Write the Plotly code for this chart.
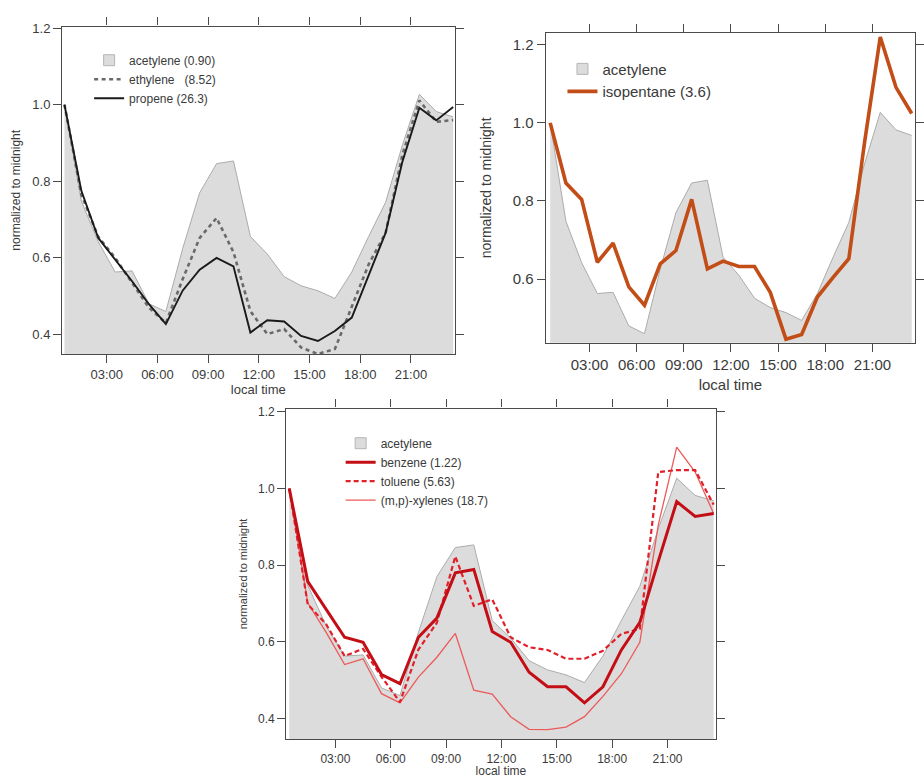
import plotly.graph_objects as go

# Hourly means (half-hour bin centres), each normalised to the midnight value
hours = [h + 0.5 for h in range(24)]

acetylene = [1.0, 0.748, 0.642, 0.563, 0.566, 0.48, 0.46, 0.625, 0.77, 0.846, 0.853, 0.656,
             0.61, 0.551, 0.527, 0.514, 0.494, 0.563, 0.656, 0.745, 0.895, 1.027, 0.982, 0.968]
ethylene = [1.0, 0.765, 0.655, 0.6, 0.535, 0.47, 0.43, 0.545, 0.652, 0.704, 0.615, 0.461,
            0.401, 0.414, 0.366, 0.349, 0.362, 0.47, 0.583, 0.665, 0.87, 1.011, 0.955, 0.96]
propene = [1.0, 0.775, 0.652, 0.596, 0.539, 0.479, 0.427, 0.515, 0.569, 0.6, 0.578, 0.405,
           0.437, 0.434, 0.396, 0.383, 0.409, 0.444, 0.557, 0.665, 0.852, 0.992, 0.959, 0.994]
isopentane = [1.0, 0.846, 0.804, 0.643, 0.692, 0.58, 0.533, 0.639, 0.673, 0.804, 0.626, 0.646,
              0.632, 0.632, 0.566, 0.446, 0.458, 0.554, 0.604, 0.652, 0.95, 1.22, 1.091, 1.024]
benzene = [1.0, 0.758, 0.685, 0.612, 0.599, 0.515, 0.491, 0.612, 0.662, 0.78, 0.789, 0.627,
           0.599, 0.521, 0.483, 0.483, 0.441, 0.483, 0.579, 0.651, 0.81, 0.966, 0.927, 0.935]
toluene = [1.0, 0.698, 0.646, 0.563, 0.582, 0.509, 0.443, 0.58, 0.65, 0.823, 0.694, 0.711,
           0.612, 0.586, 0.579, 0.556, 0.556, 0.577, 0.621, 0.634, 1.043, 1.048, 1.048, 0.958]
xylenes = [1.0, 0.702, 0.625, 0.541, 0.556, 0.465, 0.441, 0.508, 0.56, 0.622, 0.474, 0.464,
           0.405, 0.372, 0.371, 0.378, 0.405, 0.458, 0.517, 0.599, 0.905, 1.108, 1.043, 0.935]

x_tickvals = [3, 6, 9, 12, 15, 18, 21]
x_ticktext = ["03:00", "06:00", "09:00", "12:00", "15:00", "18:00", "21:00"]
y_tickvals = [0.4, 0.6, 0.8, 1.0, 1.2]
y_ticktext = ["0.4", "0.6", "0.8", "1.0", "1.2"]

FONT = "Liberation Sans, Arial, sans-serif"
TEXT = "#3a3a3a"
FRAME = "#4a4a4a"
FILL = "#dcdcdc"
EDGE = "#ababab"

fig = go.Figure()


def add_acetylene(xa, ya, legend, label):
    fig.add_trace(go.Scatter(x=hours, y=acetylene, xaxis=xa, yaxis=ya, mode="lines",
                             fill="tozeroy", fillcolor=FILL, line=dict(color=EDGE, width=1),
                             showlegend=False, hoverinfo="skip"))
    # legend swatch for the shaded reference species
    fig.add_trace(go.Scatter(x=[None], y=[None], xaxis=xa, yaxis=ya, mode="markers", name=label,
                             marker=dict(symbol="square", size=11, color=FILL,
                                         line=dict(color="#b5b5b5", width=1)),
                             legend=legend, legendrank=1))


# panel 1: alkenes
add_acetylene("x", "y", "legend", "acetylene (0.90)")
fig.add_trace(go.Scatter(x=hours, y=ethylene, xaxis="x", yaxis="y", mode="lines",
                         name="ethylene   (8.52)", legend="legend", legendrank=2,
                         line=dict(color="#6a6a6a", width=2.6, dash="4px,3.5px")))
fig.add_trace(go.Scatter(x=hours, y=propene, xaxis="x", yaxis="y", mode="lines",
                         name="propene (26.3)", legend="legend", legendrank=3,
                         line=dict(color="#1a1a1a", width=1.9)))

# panel 2: isopentane
add_acetylene("x2", "y2", "legend2", "acetylene")
fig.add_trace(go.Scatter(x=hours, y=isopentane, xaxis="x2", yaxis="y2", mode="lines",
                         name="isopentane (3.6)", legend="legend2", legendrank=2,
                         line=dict(color="#c24d17", width=3.6)))

# panel 3: aromatics (benzene drawn last so it sits on top)
add_acetylene("x3", "y3", "legend3", "acetylene")
fig.add_trace(go.Scatter(x=hours, y=xylenes, xaxis="x3", yaxis="y3", mode="lines",
                         name="(m,p)-xylenes (18.7)", legend="legend3", legendrank=4,
                         line=dict(color="#ec5a5a", width=1.3)))
fig.add_trace(go.Scatter(x=hours, y=toluene, xaxis="x3", yaxis="y3", mode="lines",
                         name="toluene (5.63)", legend="legend3", legendrank=3,
                         line=dict(color="#e2202a", width=2.2, dash="5px,3px")))
fig.add_trace(go.Scatter(x=hours, y=benzene, xaxis="x3", yaxis="y3", mode="lines",
                         name="benzene (1.22)", legend="legend3", legendrank=2,
                         line=dict(color="#c40e16", width=3.0)))


def xaxis(domain, rng, size, standoff):
    return dict(domain=domain, range=rng, showgrid=False, zeroline=False,
                showline=True, linecolor=FRAME, linewidth=1.2, mirror="ticks",
                ticks="outside", ticklen=8, tickwidth=1.2, tickcolor=FRAME,
                tickvals=x_tickvals, ticktext=x_ticktext,
                tickfont=dict(family=FONT, size=size, color=TEXT),
                title=dict(text="local time", font=dict(family=FONT, size=size, color=TEXT),
                           standoff=standoff))


def yaxis(domain, rng, size, standoff):
    return dict(domain=domain, range=rng, showgrid=False, zeroline=False,
                showline=True, linecolor=FRAME, linewidth=1.2, mirror="ticks",
                ticks="outside", ticklen=8, tickwidth=1.2, tickcolor=FRAME,
                tickvals=y_tickvals, ticktext=y_ticktext,
                tickfont=dict(family=FONT, size=size, color=TEXT),
                title=dict(text="normalized to midnight",
                           font=dict(family=FONT, size=size - 1, color=TEXT), standoff=standoff))


W, H = 924, 778


def dom_x(a, b):
    return [a / W, b / W]


def dom_y(top, bottom):
    return [1 - bottom / H, 1 - top / H]


fig.update_layout(
    width=W, height=H, margin=dict(l=0, r=0, t=0, b=0),
    paper_bgcolor="white", plot_bgcolor="white",
    xaxis=dict(xaxis(dom_x(62.7, 459), [0.36, 23.58], 13, 2), anchor="y"),
    yaxis=dict(yaxis(dom_y(20.7, 350.7), [0.349, 1.204], 13, 9), anchor="x"),
    xaxis2=dict(xaxis(dom_x(551, 924), [0.21, 23.71], 15, 7), anchor="y2"),
    yaxis2=dict(yaxis(dom_y(27.3, 339.3), [0.437, 1.23], 15, 17), anchor="x2"),
    xaxis3=dict(xaxis(dom_x(289, 722.7), [0.333, 23.61], 12, 3), anchor="y3"),
    yaxis3=dict(yaxis(dom_y(405.7, 739), [0.346, 1.2085], 12, 8), anchor="x3"),
    legend=dict(x=90 / W, y=1 - 40 / H, xanchor="left", yanchor="top",
                bgcolor="rgba(0,0,0,0)", font=dict(family=FONT, size=12, color=TEXT)),
    legend2=dict(x=568 / W, y=1 - 47 / H, xanchor="left", yanchor="top",
                 bgcolor="rgba(0,0,0,0)", font=dict(family=FONT, size=15, color=TEXT)),
    legend3=dict(x=344 / W, y=1 - 426 / H, xanchor="left", yanchor="top",
                 bgcolor="rgba(0,0,0,0)", font=dict(family=FONT, size=12, color=TEXT)),
)

fig.write_html("out.html")
